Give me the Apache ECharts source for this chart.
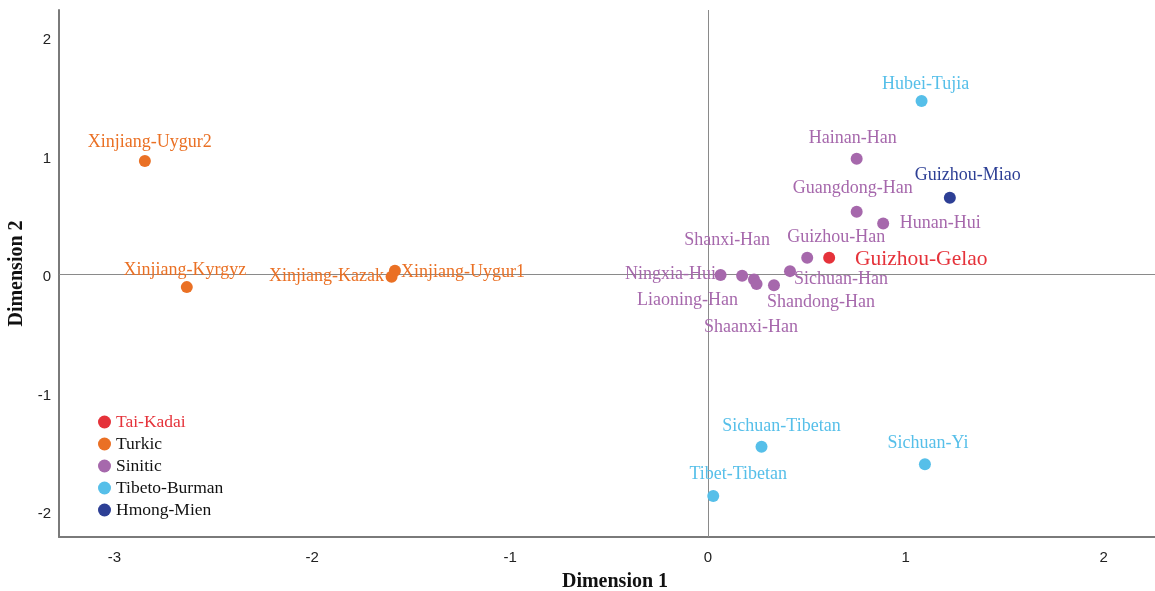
<!DOCTYPE html>
<html>
<head>
<meta charset="utf-8">
<style>
  html, body { margin: 0; padding: 0; background: #fff; }
  #chart { width: 1155px; height: 591px; }
</style>
<script src="https://cdn.jsdelivr.net/npm/echarts@6/dist/echarts.min.js"></script>
</head>
<body>
<div id="chart"></div>
<script>
// MDS coordinates of populations, grouped by language family
const groups = ['Tai-Kadai', 'Turkic', 'Sinitic', 'Tibeto-Burman', 'Hmong-Mien'];

const taiKadai = [
  ['Guizhou-Gelao', 0.613, 0.138]
];
const turkic = [
  ['Xinjiang-Uygur2', -2.846, 0.954],
  ['Xinjiang-Kyrgyz', -2.634, -0.110],
  ['Xinjiang-Kazak', -1.599, -0.023],
  ['Xinjiang-Uygur1', -1.582, 0.028]
];
const sinitic = [
  ['Hainan-Han', 0.752, 0.973],
  ['Guangdong-Han', 0.752, 0.526],
  ['Hunan-Hui', 0.886, 0.428],
  ['Guizhou-Han', 0.502, 0.138],
  ['Ningxia-Hui', 0.064, -0.008],
  ['Shanxi-Han', 0.173, -0.014],
  ['Shaanxi-Han', 0.233, -0.045],
  ['Liaoning-Han', 0.246, -0.084],
  ['Shandong-Han', 0.334, -0.095],
  ['Sichuan-Han', 0.415, 0.025]
];
const tibetoBurman = [
  ['Hubei-Tujia', 1.080, 1.462],
  ['Sichuan-Tibetan', 0.271, -1.457],
  ['Sichuan-Yi', 1.097, -1.606],
  ['Tibet-Tibetan', 0.027, -1.873]
];
const hmongMien = [
  ['Guizhou-Miao', 1.223, 0.644]
];

const xTicks = [-3, -2, -1, 0, 1, 2];
const yTicks = [-2, -1, 0, 1, 2];

// colours per family
const colors = ['#e5323a', '#ea7024', '#a668ac', '#56bfe9', '#2d3f95'];

// label placement: offset of the label centre from the marker centre (px)
const labelOffsets = {
  'Guizhou-Gelao': [92, 2],
  'Xinjiang-Uygur2': [5, -19],
  'Xinjiang-Kyrgyz': [-2, -17],
  'Xinjiang-Kazak': [-65, -1],
  'Xinjiang-Uygur1': [68, 1],
  'Hainan-Han': [-4, -21],
  'Guangdong-Han': [-4, -24],
  'Hunan-Hui': [57, 0],
  'Guizhou-Han': [29, -20],
  'Ningxia-Hui': [-50, -1],
  'Shanxi-Han': [-15, -35],
  'Shaanxi-Han': [-3, 48],
  'Liaoning-Han': [-69, 16],
  'Shandong-Han': [47, 17],
  'Sichuan-Han': [51, 8],
  'Hubei-Tujia': [4, -17],
  'Sichuan-Tibetan': [20, -20],
  'Sichuan-Yi': [3, -21],
  'Tibet-Tibetan': [25, -22],
  'Guizhou-Miao': [18, -23]
};

const serif = '"Liberation Serif", "Times New Roman", serif';
const sans = '"Liberation Sans", Arial, sans-serif';

function buildSeries(name, rows, color, idx) {
  const s = {
    name: name,
    type: 'scatter',
    symbol: 'circle',
    symbolSize: 12,
    itemStyle: { color: color, opacity: 1 },
    z: 3,
    data: rows.map(r => ({
      name: r[0],
      value: [r[1], r[2]],
      label: {
        show: true,
        position: 'inside',
        align: 'center',
        verticalAlign: 'middle',
        offset: labelOffsets[r[0]] || [0, -18],
        formatter: '{b}',
        color: color,
        fontFamily: serif,
        fontSize: name === 'Tai-Kadai' ? 21.5 : 18
      }
    }))
  };
  if (idx === 0) {
    // zero reference lines through the origin
    s.markLine = {
      silent: true,
      symbol: 'none',
      z: 1,
      label: { show: false },
      lineStyle: { color: '#8a8a8a', width: 1, type: 'solid' },
      emphasis: { disabled: true },
      data: [{ xAxis: 0 }, { yAxis: 0 }]
    };
  }
  return s;
}

const seriesRows = [taiKadai, turkic, sinitic, tibetoBurman, hmongMien];

const chart = echarts.init(document.getElementById('chart'), null, { renderer: 'canvas' });
chart.setOption({
  animation: false,
  backgroundColor: '#ffffff',
  grid: { left: 59, right: 0, top: 10, bottom: 54, containLabel: false, outerBoundsMode: 'none' },
  legend: {
    orient: 'vertical',
    left: 98,
    top: 413,
    padding: 0,
    itemWidth: 13,
    itemHeight: 13,
    itemGap: 4,
    icon: 'circle',
    selectedMode: false,
    textStyle: { fontFamily: serif, fontSize: 17.5, color: '#111' },
    data: groups.map((g, i) => ({
      name: g,
      textStyle: { color: i === 0 ? colors[0] : '#111' }
    }))
  },
  xAxis: {
    type: 'value',
    min: -3.28,
    max: 2.26,
    name: 'Dimension 1',
    nameLocation: 'middle',
    nameGap: 35,
    nameTextStyle: { fontFamily: serif, fontSize: 20, fontWeight: 'bold', color: '#111', padding: [0, 0, 0, 16] },
    axisLine: { show: true, onZero: false, lineStyle: { color: '#7a7a7a', width: 2 } },
    axisTick: { show: false },
    splitLine: { show: false },
    axisLabel: {
      customValues: xTicks,
      margin: 13,
      fontFamily: sans,
      fontSize: 15,
      color: '#222'
    }
  },
  yAxis: {
    type: 'value',
    min: -2.22,
    max: 2.23,
    name: 'Dimension 2',
    nameLocation: 'middle',
    nameGap: 24,
    nameRotate: 90,
    nameTextStyle: { fontFamily: serif, fontSize: 20, fontWeight: 'bold', color: '#111' },
    axisLine: { show: true, onZero: false, lineStyle: { color: '#7a7a7a', width: 2 } },
    axisTick: { show: false },
    splitLine: { show: false },
    axisLabel: {
      customValues: yTicks,
      margin: 8,
      verticalAlign: 'top',
      lineHeight: 6,
      fontFamily: sans,
      fontSize: 15,
      color: '#222'
    }
  },
  series: groups.map((g, i) => buildSeries(g, seriesRows[i], colors[i], i))
});
</script>
</body>
</html>
